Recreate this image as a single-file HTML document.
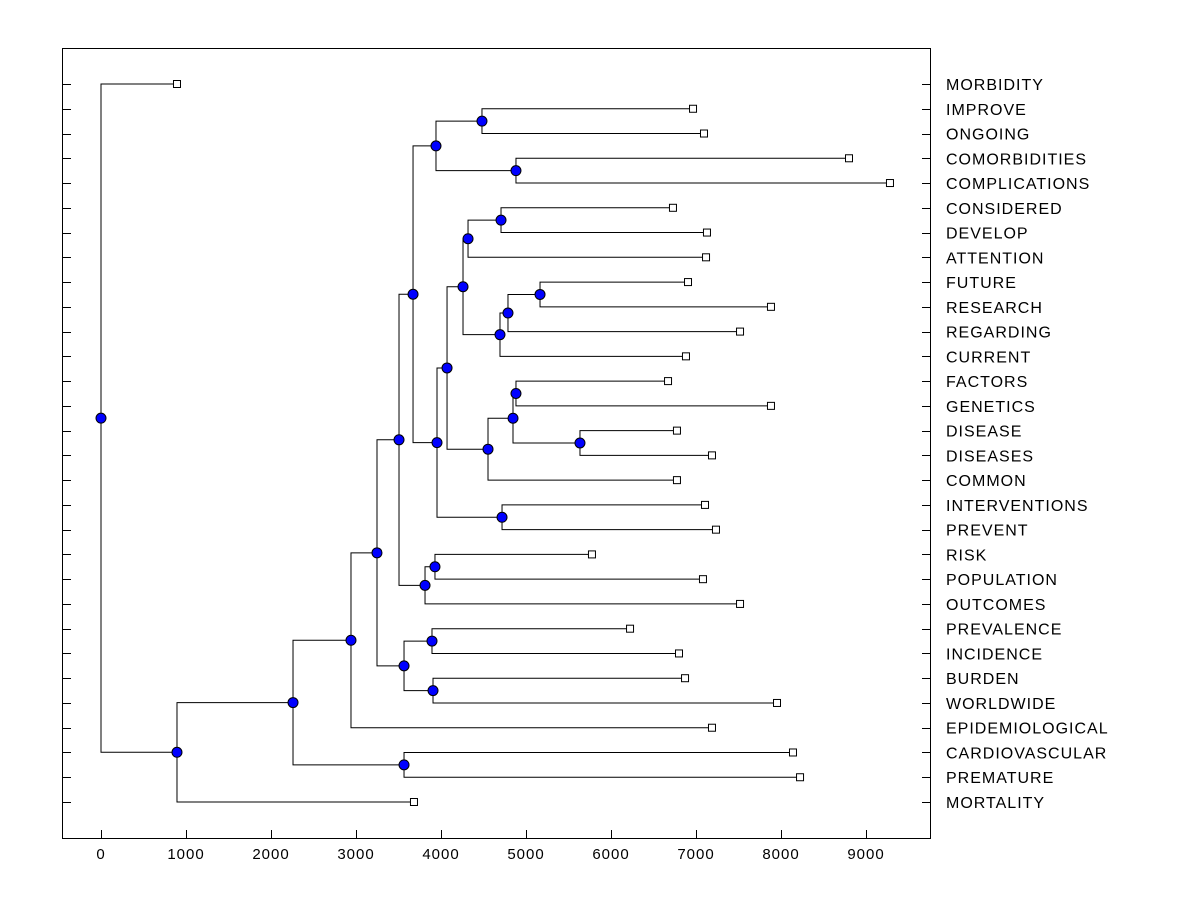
<!DOCTYPE html>
<html><head><meta charset="utf-8"><style>
html,body{margin:0;padding:0;background:#fff;}
svg text{font-family:"Liberation Sans",Arial,sans-serif;}
</style></head><body>
<svg id="chart" width="1200" height="900" viewBox="0 0 1200 900" xmlns="http://www.w3.org/2000/svg">
<rect x="0" y="0" width="1200" height="900" fill="#fff"/>
<rect x="62.5" y="48.5" width="868" height="790" fill="none" stroke="#000" stroke-width="1"/>
<g id="links"></g><g id="marks"></g><g id="labels"></g><g id="ticks"></g>
</svg>
<script>
const leafNames = ["MORBIDITY","IMPROVE","ONGOING","COMORBIDITIES","COMPLICATIONS","CONSIDERED","DEVELOP","ATTENTION","FUTURE","RESEARCH","REGARDING","CURRENT","FACTORS","GENETICS","DISEASE","DISEASES","COMMON","INTERVENTIONS","PREVENT","RISK","POPULATION","OUTCOMES","PREVALENCE","INCIDENCE","BURDEN","WORLDWIDE","EPIDEMIOLOGICAL","CARDIOVASCULAR","PREMATURE","MORTALITY"];
const leafValues = [894,6965,7094,8800,9282,6729,7129,7118,6906,7882,7518,6882,6671,7882,6776,7188,6776,7106,7235,5776,7082,7518,6224,6800,6871,7953,7188,8141,8224,3682];
const mergeChildren = [
 ["L1","L2"],["L3","L4"],["N0","N1"],
 ["L5","L6"],["N3","L7"],["L8","L9"],["N5","L10"],["N6","L11"],["N4","N7"],
 ["L12","L13"],["L14","L15"],["N9","N10"],["N11","L16"],["N8","N12"],
 ["L17","L18"],["N13","N14"],["N2","N15"],
 ["L19","L20"],["N17","L21"],["N16","N18"],
 ["L22","L23"],["L24","L25"],["N20","N21"],["N19","N22"],
 ["N23","L26"],["L27","L28"],["N24","N25"],["N26","L29"],["L0","N27"]
];
const mergeHeights = [4482,4882,3941, 4706,4318,5165,4788,4694,4259, 4882,5635,4847,4553,4071, 4718,3953,3671, 3929,3812,3506, 3894,3906,3565,3247, 2941,3565,2259,894,0];
const xTicks = [0,1000,2000,3000,4000,5000,6000,7000,8000,9000];

const NS="http://www.w3.org/2000/svg";
const xs = v => 101 + v*0.085;
const rowY = i => 84 + i*(802-84)/29;
const L=document.getElementById('links'),M=document.getElementById('marks'),T=document.getElementById('labels'),K=document.getElementById('ticks');
function mk(tag,attrs,parent){const e=document.createElementNS(NS,tag);for(const k in attrs)e.setAttribute(k,attrs[k]);parent.appendChild(e);return e;}
const pos={};
leafNames.forEach((n,i)=>{pos["L"+i]={x:xs(leafValues[i]),y:rowY(i)};});
mergeChildren.forEach((c,i)=>{const a=pos[c[0]],b=pos[c[1]];pos["N"+i]={x:xs(mergeHeights[i]),y:(a.y+b.y)/2};});
mergeChildren.forEach((c,i)=>{
  const p=pos["N"+i];
  c.forEach(ch=>{const q=pos[ch];
    const pl=mk('polyline',{points:`${p.x},${p.y} ${p.x},${q.y} ${q.x},${q.y}`,fill:'none',stroke:'#000','stroke-width':1},L);
    
    
  });
});
leafNames.forEach((n,i)=>{
  const p=pos["L"+i];
  const r=mk('rect',{x:p.x-3.5,y:p.y-3.5,width:7,height:7,fill:'#fff',stroke:'#000','stroke-width':1},M);
  
  
  const t=mk('text',{x:946,y:p.y+6,'font-size':16,'letter-spacing':1,fill:'#000'},T);
  t.textContent=n;
  
  
  const a=mk('line',{x1:63,y1:Math.round(p.y)+0.5,x2:71,y2:Math.round(p.y)+0.5,stroke:'#000'},K);
  
  
  const b=mk('line',{x1:922,y1:Math.round(p.y)+0.5,x2:930,y2:Math.round(p.y)+0.5,stroke:'#000'},K);
  
  
});
mergeChildren.forEach((c,i)=>{
  const p=pos["N"+i];
  const cc=mk('circle',{cx:p.x,cy:p.y,r:5,fill:'#0000ff',stroke:'#000','stroke-width':1},M);
  
  
});
xTicks.forEach(v=>{
  const x=Math.round(xs(v))+0.5;
  const l=mk('line',{x1:x,y1:830,x2:x,y2:838,stroke:'#000'},K);
  
  
  const t=mk('text',{x:xs(v),y:859,'font-size':15,'letter-spacing':1,'text-anchor':'middle',fill:'#000'},K);
  t.textContent=v;
  
  
});
</script>
</body></html>
